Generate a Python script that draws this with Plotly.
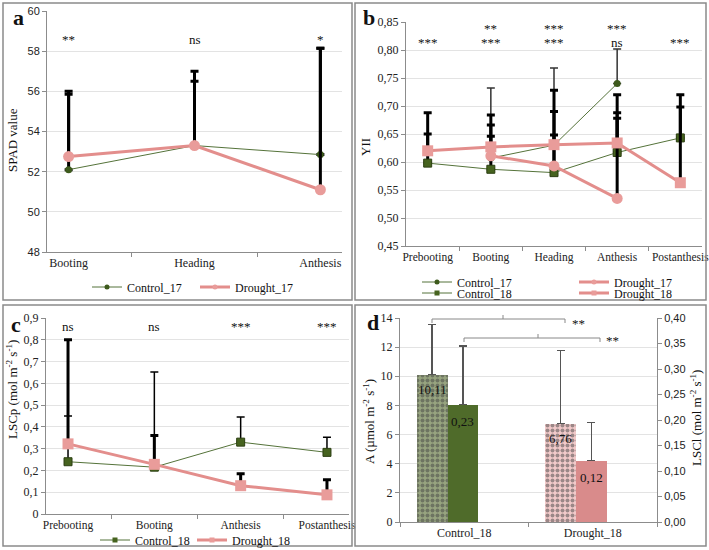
import plotly.graph_objects as go

W, H = 709, 550
SERIF = "Liberation Serif, Times New Roman, serif"
SANS = "Liberation Sans, Arial, sans-serif"

# ---------------- data ----------------
# Panel a : SPAD
stages_a = ["Booting", "Heading", "Anthesis"]
spad_control_17 = [52.1, 53.3, 52.85]
spad_control_17_err = [3.75, 3.2, 5.3]
spad_drought_17 = [52.75, 53.3, 51.1]
spad_drought_17_err = [3.25, 3.7, 7.05]
sig_a = ["**", "ns", "*"]

# Panel b : YII
stages_b = ["Prebooting", "Booting", "Heading", "Anthesis", "Postanthesis"]
yii_control_17 = [None, 0.607, 0.630, 0.740, None]
yii_control_17_err = [None, 0.125, 0.138, 0.062, None]
yii_drought_17 = [None, 0.611, 0.593, 0.535, None]
yii_drought_17_err = [None, 0.035, 0.055, 0.153, None]
yii_control_18 = [0.598, 0.587, 0.581, 0.617, 0.643]
yii_control_18_err = [0.052, 0.079, 0.109, 0.061, 0.077]
yii_drought_18 = [0.620, 0.627, 0.631, 0.634, 0.563]
yii_drought_18_err = [0.068, 0.057, 0.097, 0.086, 0.135]
sig_b_upper = ["", "**", "***", "***", ""]
sig_b_lower = ["***", "***", "***", "ns", "***"]

# Panel c : LSCp
stages_c = ["Prebooting", "Booting", "Anthesis", "Postanthesis"]
lscp_control_18 = [0.24, 0.215, 0.33, 0.283]
lscp_control_18_err = [0.21, 0.437, 0.115, 0.069]
lscp_drought_18 = [0.322, 0.228, 0.13, 0.088]
lscp_drought_18_err = [0.478, 0.132, 0.055, 0.069]
sig_c = ["ns", "ns", "***", "***"]

# Panel d : A and LSCl
groups_d = ["Control_18", "Drought_18"]
a_values = [10.11, 6.76]
a_err = [3.45, 5.0]
lscl_values = [0.23, 0.12]
lscl_err = [0.115, 0.075]

# ---------------- styles ----------------
C_LINE = "#55733a"
C_MARK = "#3d5a1c"
C_SQ = "#46631f"
D_LINE = "#e38e8c"
D_MARK = "#e99c9a"


def px(x):
    return x / W


def py(y):
    return 1 - y / H


fig = go.Figure()


def err(arr, color="black", thick=3, width=4):
    return dict(type="data", array=arr, symmetric=False, arrayminus=[0] * len(arr),
                color=color, thickness=thick, width=width)


def ctrl_marker(symbol):
    if symbol == "square":
        return dict(color=C_SQ, size=8, symbol="square", line=dict(color="#2c3f12", width=1))
    return dict(color=C_MARK, size=7, symbol="circle")


# Panel a
fig.add_trace(go.Scatter(x=stages_a, y=spad_control_17, name="Control_17", mode="lines+markers",
                         line=dict(color=C_LINE, width=1), marker=ctrl_marker("circle"),
                         error_y=err(spad_control_17_err), xaxis="x", yaxis="y", showlegend=False))
fig.add_trace(go.Scatter(x=stages_a, y=spad_drought_17, name="Drought_17", mode="lines+markers",
                         line=dict(color=D_LINE, width=3), marker=dict(color=D_MARK, size=11, symbol="circle"),
                         error_y=err(spad_drought_17_err), xaxis="x", yaxis="y", showlegend=False))

# Panel b
fig.add_trace(go.Scatter(x=stages_b, y=yii_control_17, name="Control_17", mode="lines+markers",
                         line=dict(color=C_LINE, width=1), marker=ctrl_marker("circle"),
                         error_y=err(yii_control_17_err, color="#333", thick=1.5),
                         xaxis="x2", yaxis="y2", showlegend=False))
fig.add_trace(go.Scatter(x=stages_b, y=yii_control_18, name="Control_18", mode="lines+markers",
                         line=dict(color=C_LINE, width=1), marker=ctrl_marker("square"),
                         error_y=err(yii_control_18_err), xaxis="x2", yaxis="y2", showlegend=False))
fig.add_trace(go.Scatter(x=stages_b, y=yii_drought_17, name="Drought_17", mode="lines+markers",
                         line=dict(color=D_LINE, width=3), marker=dict(color=D_MARK, size=11, symbol="circle"),
                         error_y=err(yii_drought_17_err), xaxis="x2", yaxis="y2", showlegend=False))
fig.add_trace(go.Scatter(x=stages_b, y=yii_drought_18, name="Drought_18", mode="lines+markers",
                         line=dict(color=D_LINE, width=3), marker=dict(color=D_MARK, size=11, symbol="square"),
                         error_y=err(yii_drought_18_err), xaxis="x2", yaxis="y2", showlegend=False))

# Panel c
fig.add_trace(go.Scatter(x=stages_c, y=lscp_control_18, name="Control_18", mode="lines+markers",
                         line=dict(color=C_LINE, width=1), marker=ctrl_marker("square"),
                         error_y=err(lscp_control_18_err, thick=1.5), xaxis="x3", yaxis="y3", showlegend=False))
fig.add_trace(go.Scatter(x=stages_c, y=lscp_drought_18, name="Drought_18", mode="lines+markers",
                         line=dict(color=D_LINE, width=3), marker=dict(color=D_MARK, size=11, symbol="square"),
                         error_y=err(lscp_drought_18_err), xaxis="x3", yaxis="y3", showlegend=False))

# Panel d
BAR_W = 0.24
A_OFF, L_OFF = -0.37, -0.13
fig.add_trace(go.Bar(x=groups_d, y=a_values, offset=A_OFF, width=BAR_W, showlegend=False,
                     marker=dict(color=["#97a47f", "#f2caca"], line=dict(width=0),
                                 pattern=dict(shape=".", fgcolor="white", size=5, solidity=0.5)),
                     error_y=err(a_err, color="#555", thick=1.3, width=4), xaxis="x4", yaxis="y4"))
fig.add_trace(go.Bar(x=groups_d, y=lscl_values, offset=L_OFF, width=BAR_W, showlegend=False,
                     marker=dict(color=["#4f6b2a", "#d98b8b"], line=dict(width=0)),
                     error_y=err(lscl_err, color="#555", thick=1.3, width=4), xaxis="x4", yaxis="y5"))

# ---------------- legends (one entry per legend box) ----------------
leg_common = dict(orientation="h", xanchor="left", yanchor="middle", bgcolor="rgba(0,0,0,0)",
                  font=dict(family=SERIF, size=12, color="#111"), itemsizing="trace",
                  tracegroupgap=0, itemclick=False, itemdoubleclick=False)
LEG_DX, LEG_DY = 8, 0
legend_items = [
    # name, control?, symbol, line-start x, row y
    ("Control_17", True, "circle", 95, 287),
    ("Drought_17", False, "circle", 203, 287),
    ("Control_17", True, "circle", 425, 282),
    ("Drought_17", False, "circle", 582, 282),
    ("Control_18", True, "square", 425, 293),
    ("Drought_18", False, "square", 582, 293),
    ("Control_18", True, "square", 103, 540),
    ("Drought_18", False, "square", 200, 540),
]
leg_layout = {}
for k, (name, control, symbol, lx, ly) in enumerate(legend_items):
    lname = "legend" if k == 0 else f"legend{k + 1}"
    if control:
        line = dict(color=C_LINE, width=1)
        marker = dict(color=C_SQ if symbol == "square" else C_MARK, size=5, symbol=symbol)
    else:
        line = dict(color=D_LINE, width=3)
        marker = dict(color=D_MARK, size=5, symbol=symbol)
    fig.add_trace(go.Scatter(x=[None], y=[None], name=name, mode="lines+markers", line=line, marker=marker,
                             legend=lname, showlegend=True, xaxis="x", yaxis="y"))
    leg_layout[lname] = dict(x=px(lx - LEG_DX), y=py(ly - LEG_DY), **leg_common)
fig.update_layout(**leg_layout)

# ---------------- axes ----------------
GRID = "#e3e3e3"
AXL = "#8c8c8c"
tick_serif = dict(family=SERIF, size=12, color="#222")
tick_sans = dict(family=SANS, size=11, color="#222")


def xax(domain, anchor, size=12):
    return dict(domain=domain, anchor=anchor, type="category", showgrid=False, showline=True,
                linecolor=AXL, linewidth=1, ticks="outside", tickson="boundaries", ticklen=4,
                tickcolor=AXL, tickfont=dict(family=SERIF, size=size, color="#222"), tickangle=0,
                zeroline=False, fixedrange=True, automargin=False)


def yax(domain, anchor, rng, dtick, fmt=None, font=tick_serif, **kw):
    d = dict(domain=domain, anchor=anchor, range=rng, dtick=dtick, showgrid=True, gridcolor=GRID,
             gridwidth=1, showline=True, linecolor=AXL, linewidth=1, ticks="outside", ticklen=4,
             tickcolor=AXL, tickfont=font, zeroline=False, fixedrange=True, automargin=False)
    if fmt:
        d["tickformat"] = fmt
    d.update(kw)
    return d


fig.update_layout(
    xaxis=xax([px(47), px(342)], "y"),
    yaxis=yax([py(252), py(11)], "x", [48, 60], 2, font=tick_sans),
    xaxis2=xax([px(406), px(702)], "y2", size=11.5),
    yaxis2=yax([py(246), py(22)], "x2", [0.45, 0.85], 0.05, ".2f"),
    xaxis3=xax([px(46), px(349)], "y3", size=11.5),
    yaxis3=yax([py(514), py(318)], "x3", [0, 0.9], 0.1),
    xaxis4=xax([px(400), px(657)], "y4"),
    yaxis4=yax([py(522), py(318)], "x4", [0, 14], 2),
    yaxis5=yax([py(522), py(318)], "x4", [0, 0.4], 0.05, ".2f", font=tick_sans,
               overlaying="y4", side="right", showgrid=False),
)

# ---------------- annotations ----------------
ann = []
sig_font = dict(family=SERIF, size=13, color="#111")
for i, s in enumerate(sig_a):
    ann.append(dict(x=stages_a[i], y=58.6, xref="x", yref="y", text=s, showarrow=False, font=sig_font))
for i, s in enumerate(sig_b_upper):
    if s:
        ann.append(dict(x=stages_b[i], y=0.839, xref="x2", yref="y2", text=s, showarrow=False, font=sig_font))
for i, s in enumerate(sig_b_lower):
    ann.append(dict(x=stages_b[i], y=0.814, xref="x2", yref="y2", text=s, showarrow=False, font=sig_font))
for i, s in enumerate(sig_c):
    ann.append(dict(x=stages_c[i], y=0.86, xref="x3", yref="y3", text=s, showarrow=False, font=sig_font))

# bar value labels (panel d)
lab_font = dict(family=SERIF, size=13, color="#111")
for i, v in enumerate(a_values):
    ann.append(dict(x=i + A_OFF + BAR_W / 2, y=v, xref="x4", yref="y4", text=f"{v:.2f}".replace(".", ","),
                    showarrow=False, xanchor="center", yanchor="top", yshift=-5, font=lab_font))
for i, v in enumerate(lscl_values):
    ann.append(dict(x=i + L_OFF + BAR_W / 2, y=v, xref="x4", yref="y5", text=f"{v:.2f}".replace(".", ","),
                    showarrow=False, xanchor="center", yanchor="top", yshift=-7, font=lab_font))

# panel letters
for letter, (lx, ly) in {"a": (18, 18), "b": (369, 18), "c": (16, 324), "d": (373, 322)}.items():
    ann.append(dict(x=px(lx), y=py(ly), xref="paper", yref="paper", text=f"<b>{letter}</b>",
                    xanchor="center", yanchor="middle",
                    showarrow=False, font=dict(family=SERIF, size=22, color="#111")))

# y-axis titles
ytitles = [
    ("SPAD value", 13, 140),
    ("YII", 365, 147),
    ("LSCp (mol m<sup>-2</sup> s<sup>-1</sup>)", 12, 390),
    ("A (µmol m<sup>-2</sup> s<sup>-1</sup>)", 369, 422),
    ("LSCl (mol m<sup>-2</sup> s<sup>-1</sup>)", 696, 418),
]
for t, tx, ty in ytitles:
    ann.append(dict(x=px(tx), y=py(ty), xref="paper", yref="paper", text=t, textangle=-90,
                    xanchor="center", yanchor="middle",
                    showarrow=False, font=dict(family=SERIF, size=13, color="#111")))

# significance brackets (panel d)
ann.append(dict(x=px(578), y=py(323), xref="paper", yref="paper", text="**", showarrow=False,
                xanchor="center", yanchor="middle", font=sig_font))
ann.append(dict(x=px(612), y=py(340), xref="paper", yref="paper", text="**", showarrow=False,
                xanchor="center", yanchor="middle", font=sig_font))

shapes = []
BR = dict(color="#888", width=1)
for (x0, x1, yb, xc) in [(432, 565, 319, 503), (464, 600, 338, 538)]:
    path = (f"M{px(x0)},{py(yb + 4)} L{px(x0)},{py(yb)} L{px(x1)},{py(yb)} L{px(x1)},{py(yb + 4)} "
            f"M{px(xc)},{py(yb)} L{px(xc)},{py(yb - 4)}")
    shapes.append(dict(type="path", xref="paper", yref="paper", path=path, line=BR))

# panel frames
for (x0, y0, x1, y1) in [(3, 3, 352, 300), (355, 3, 706, 300), (3, 305, 352, 546), (355, 305, 706, 546)]:
    shapes.append(dict(type="rect", xref="paper", yref="paper", x0=px(x0), x1=px(x1), y0=py(y0), y1=py(y1),
                       line=dict(color="#8a8a8a", width=1.5), fillcolor="rgba(0,0,0,0)", layer="above"))

fig.update_layout(
    width=W, height=H, margin=dict(l=0, r=0, t=0, b=0, pad=0, autoexpand=False),
    paper_bgcolor="white", plot_bgcolor="white",
    separators=",.", hovermode=False, bargap=0,
    annotations=ann, shapes=shapes,
    font=dict(family=SERIF, size=12, color="#111"),
)

fig.write_html("out.html", config={"displayModeBar": False},
               post_script="document.body.style.margin='0';document.body.style.overflow='hidden';")
